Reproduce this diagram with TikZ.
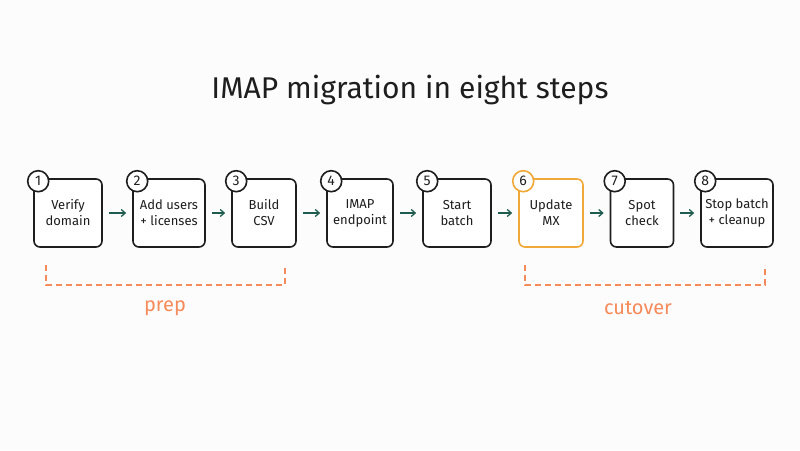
\documentclass[tikz,border=0pt]{standalone}
\usepackage{fontspec}
\setmainfont{Fira Sans}
\usetikzlibrary{arrows.meta}
\definecolor{bg}{HTML}{FDFCFC}
\definecolor{ink}{HTML}{1E1E1E}
\definecolor{teal}{HTML}{1F5C50}
\definecolor{orng}{HTML}{F58A5A}
\definecolor{gold}{HTML}{F0A838}
\begin{document}
\begin{tikzpicture}[x=1pt,y=-1pt,
  stepbox/.style={line width=1.6pt,rounded corners=6pt,minimum height=68pt,inner sep=2pt,align=center,font=\fontsize{13}{16}\selectfont,text=ink,fill=white},
  num/.style={line width=1.6pt,circle,fill=white,minimum size=21pt,inner sep=0pt,font=\fontsize{14}{14}\selectfont,text=ink},
  conn/.style={draw=teal,line width=1.3pt,-{Straight Barb[length=4pt,width=7pt]}},
  brk/.style={draw=orng,line width=1.3pt,dash pattern=on 6pt off 4pt}]
\fill[bg] (0,0) rectangle (800,450);
\node[font=\fontsize{30}{34}\selectfont,text=ink] (title) at (410,90) {IMAP migration in eight steps};
\foreach \i/\x/\w/\c/\t in {1/68/68/ink/{Verify\\domain},2/169/72/ink/{Add users\\+ licenses},3/264/64/ink/{Build\\CSV},4/360/66/ink/{IMAP\\endpoint},5/457/68/ink/{Start\\batch},6/551/64/gold/{Update\\MX},7/642/63/ink/{Spot\\check},8/737/72/ink/{Stop batch\\+ cleanup}}{
  \node[stepbox,draw=\c,minimum width=\w pt] (b\i) at (\x,213) {\t};
  \node[num,draw=\c] (n\i) at ([xshift=5pt,yshift=-3pt]b\i.north west) {\i};
}
\foreach \a/\b in {1/2,2/3,3/4,4/5,5/6,6/7,7/8}{ \draw[conn] ([xshift=6pt]b\a.east) -- ([xshift=-6pt]b\b.west); }
\coordinate (p1) at (46,265); \coordinate (p2) at (46,285); \coordinate (p3) at (285,285); \coordinate (p4) at (285,265);
\draw[brk] (p1) -- (p2) -- (p3) -- (p4);
\node[text=orng,font=\fontsize{20}{22}\selectfont] (prep) at (165,308) {prep};
\coordinate (c1) at (525,265); \coordinate (c2) at (525,285); \coordinate (c3) at (765,285); \coordinate (c4) at (765,265);
\draw[brk] (c1) -- (c2) -- (c3) -- (c4);
\node[text=orng,font=\fontsize{20}{22}\selectfont] (cut) at (638,308) {cutover};
\end{tikzpicture}
\end{document}
